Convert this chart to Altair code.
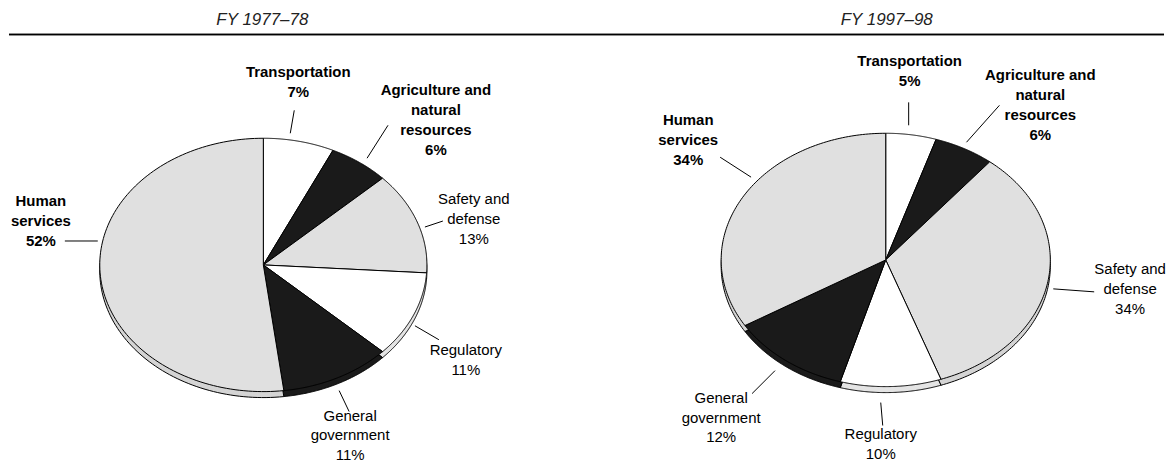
import altair as alt
import pandas as pd

# ---------------- data ----------------
PERIODS = ["FY 1977–78", "FY 1997–98"]
CATEGORIES = [
    "Transportation",
    "Agriculture and natural resources",
    "Safety and defense",
    "Regulatory",
    "General government",
    "Human services",
]
LABEL_LINES = [
    "Transportation",
    "Agriculture and\nnatural\nresources",
    "Safety and\ndefense",
    "Regulatory",
    "General\ngovernment",
    "Human\nservices",
]
SHARE_1977 = [7, 6, 13, 11, 11, 52]
SHARE_1997 = [5, 6, 34, 10, 12, 34]

# ---------------- styles ----------------
TOP_FILL = ["#ffffff", "#1a1a1a", "#e0e0e0", "#ffffff", "#1a1a1a", "#e0e0e0"]
RIM_FILL = ["#e4e4e4", "#1a1a1a", "#d4d4d4", "#e4e4e4", "#1a1a1a", "#d4d4d4"]
BOLD = [True, True, False, False, False, True]
FONT = "Liberation Sans"

# ---------------- layout (page pixel coordinates) ----------------
W, H = 1158, 454
PIE_CX = [263, 887]
PIE_CY = [265, 260]
PIE_RX = [164, 165]
PIE_RY = [127, 127]
RIM = 6
TITLE_X = [262, 888]
TITLE_Y = 19
# centre of the first line of each label
LABEL_X = [[298, 436, 474, 466, 350, 40], [911, 1042, 1132, 882, 722, 689]]
LABEL_Y = [[72, 90, 199, 350, 416, 201], [61, 75, 269, 435, 398, 120]]
LEADERS = [
    [(294, 110, 290, 133), (388, 125, 367, 158), (443, 221, 425, 227),
     (439, 340, 415, 326), (349, 412, 339, 391), (64, 241, 97, 241)],
    [(910, 102, 910, 125), (1001, 105, 968, 142), (1096, 292, 1055, 289),
     (884, 426, 882, 403), (753, 394, 776, 371), (721, 157, 752, 177)],
]
N = 120  # arc resolution

# ---------------- tables ----------------
wrows, lrows, rrows = [], [], []
for p, (period, shares) in enumerate(zip(PERIODS, [SHARE_1977, SHARE_1997])):
    for i, (cat, v) in enumerate(zip(CATEGORIES, shares)):
        wrows.append(dict(pie=period, order=i, category=cat, value=v,
                          top=TOP_FILL[i], rim=RIM_FILL[i],
                          cx=PIE_CX[p], cy=PIE_CY[p], rx=PIE_RX[p], ry=PIE_RY[p]))
        lrows.append(dict(x=LABEL_X[p][i], y=LABEL_Y[p][i],
                          text=f"{LABEL_LINES[i]}\n{v}%", bold=BOLD[i]))
        x1, y1, x2, y2 = LEADERS[p][i]
        rrows.append(dict(x=x1, y=y1, x2=x2, y2=y2))
wedges = pd.DataFrame(wrows)
labels = pd.DataFrame(lrows)
leaders = pd.DataFrame(rrows)
titles = pd.DataFrame(dict(x=TITLE_X, y=[TITLE_Y] * 2, text=PERIODS))

xs = alt.Scale(domain=[8, 8 + W], nice=False, zero=False)
ys = alt.Scale(domain=[8, 8 + H], nice=False, zero=False, reverse=True)


def X(f):
    return alt.X(f, type="quantitative", scale=xs, axis=None)


def Y(f):
    return alt.Y(f, type="quantitative", scale=ys, axis=None)


base = (
    alt.Chart(wedges)
    .transform_joinaggregate(total="sum(value)", groupby=["pie"])
    .transform_window(cum="sum(value)", groupby=["pie"], sort=[alt.SortField("order")])
    .transform_calculate(
        a0="2*PI*(datum.cum - datum.value)/datum.total",
        a1="2*PI*datum.cum/datum.total",
        key='datum.pie + "|" + datum.category',
        k=f"sequence(-1, {N + 2})",
    )
    .transform_flatten(["k"])
    .transform_calculate(
        t=f"datum.a0 + (datum.a1 - datum.a0) * datum.k / {N}",
        center=f"datum.k < 0 || datum.k > {N}",
    )
    .transform_calculate(
        px="datum.center ? datum.cx : datum.cx + datum.rx * sin(datum.t)",
        py="datum.center ? datum.cy : datum.cy - datum.ry * cos(datum.t)",
    )
    .transform_calculate(pyr=f"datum.py + {RIM}")
)

rim = base.mark_line(filled=True, stroke="black", strokeWidth=1, strokeJoin="round").encode(
    x=X("px"), y=Y("pyr"), color=alt.Color("rim:N", scale=None),
    detail="key:N", order=alt.Order("k:Q"),
)
top = base.mark_line(filled=True, stroke="black", strokeWidth=1, strokeJoin="round").encode(
    x=X("px"), y=Y("py"), color=alt.Color("top:N", scale=None),
    detail="key:N", order=alt.Order("k:Q"),
)

lead = alt.Chart(leaders).mark_rule(color="black", strokeWidth=1).encode(
    x=X("x"), y=Y("y"), x2="x2", y2="y2"
)

txt_bold = alt.Chart(labels).transform_filter("datum.bold").mark_text(
    font=FONT, fontSize=15, fontWeight="bold", lineBreak="\n", lineHeight=20,
    align="center", baseline="middle", color="black",
).encode(x=X("x"), y=Y("y"), text="text:N")
txt_reg = alt.Chart(labels).transform_filter("!datum.bold").mark_text(
    font=FONT, fontSize=15, fontWeight="normal", lineBreak="\n", lineHeight=20,
    align="center", baseline="middle", color="black",
).encode(x=X("x"), y=Y("y"), text="text:N")

ttl = alt.Chart(titles).mark_text(
    font=FONT, fontSize=17, fontStyle="italic", align="center", baseline="middle", color="#222"
).encode(x=X("x"), y=Y("y"), text="text:N")

sep = alt.Chart(titles).mark_rule(color="black", strokeWidth=1.5).encode(
    x=alt.value(0), x2=alt.value(W), y=alt.value(34 - 8)
)

chart = (
    alt.layer(rim, top, lead, txt_bold, txt_reg, ttl, sep)
    .properties(width=W, height=H, padding=0)
    .configure_view(stroke=None)
)

chart.save("out.html", embed_options={"renderer": "svg", "actions": False})
